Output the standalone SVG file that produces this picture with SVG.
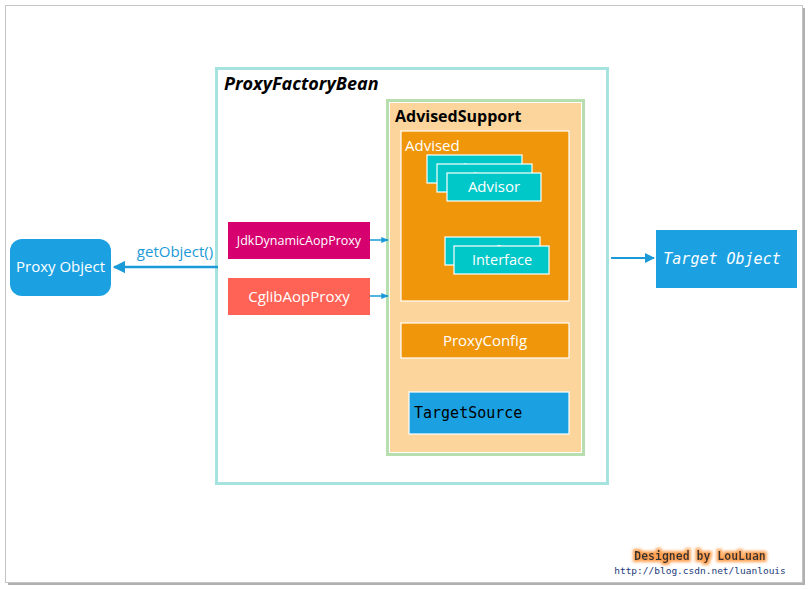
<svg xmlns="http://www.w3.org/2000/svg" width="808" height="589" viewBox="0 0 808 589">
<defs>
<style>
.lbl{font-family:"Open Sans","Liberation Sans",sans-serif;fill:#fff;}
.mono{font-family:"DejaVu Sans Mono","Liberation Mono",monospace;}
.conn{stroke:#1a9ad6;fill:none;}
.teal{fill:#00c8c8;stroke:#fff;stroke-width:1.2;}
</style>
<marker id="ah" viewBox="0 0 10 10" refX="9" refY="5" markerWidth="5" markerHeight="5" orient="auto" markerUnits="strokeWidth">
<path d="M0,0 L10,5 L0,10 z" fill="#1a9ad6"/>
</marker>
<marker id="ahs" viewBox="0 0 10 10" refX="9" refY="5" markerWidth="6" markerHeight="5" orient="auto" markerUnits="strokeWidth">
<path d="M0,1 L10,5 L0,9 z" fill="#1a9ad6"/>
</marker>
<filter id="glow" x="-10%" y="-40%" width="120%" height="180%">
<feMorphology in="SourceAlpha" operator="dilate" radius="2" result="d"/>
<feGaussianBlur in="d" stdDeviation="1.5" result="b"/>
<feFlood flood-color="#ffa050"/>
<feComposite in2="b" operator="in" result="g"/>
<feMerge><feMergeNode in="g"/><feMergeNode in="SourceGraphic"/></feMerge>
</filter>
</defs>
<rect width="808" height="589" fill="#fff"/>
<g id="frame">
<rect x="8" y="8" width="797" height="577" fill="#b0b0b0"/>
<rect x="5.5" y="5.5" width="797" height="577" fill="#fff" stroke="#c4c4c4" stroke-width="1"/>
</g>
<g id="proxyFactoryBean">
<rect x="216.5" y="68.5" width="391" height="415" fill="#fff" stroke="#a6e3de" stroke-width="3"/>
<text x="224" y="90" font-family="'Open Sans','Liberation Sans',sans-serif" font-size="18" font-weight="bold" font-style="italic" fill="#000">ProxyFactoryBean</text>
</g>
<g id="advisedSupport">
<rect x="387.5" y="100.5" width="196" height="354" fill="#fbd59c" stroke="#b6deae" stroke-width="3"/>
<rect x="389.5" y="102.5" width="192" height="350" fill="none" stroke="#fff" stroke-width="1"/>
<text x="395" y="122" font-family="'Open Sans','Liberation Sans',sans-serif" font-size="16" font-weight="bold" fill="#000">AdvisedSupport</text>
</g>
<g id="advised">
<rect x="401" y="131" width="168" height="170" fill="#f0960a" stroke="#fff" stroke-width="1.2"/>
<text class="lbl" x="405" y="151" font-size="15">Advised</text>
</g>
<g id="advisor1">
<rect class="teal" x="427" y="155" width="95" height="28"/>
<text class="lbl" x="474" y="174" font-size="14.5" text-anchor="middle">Advisor</text>
</g>
<g id="advisor2">
<rect class="teal" x="437" y="164" width="95" height="28"/>
<text class="lbl" x="484" y="183" font-size="14.5" text-anchor="middle">Advisor</text>
</g>
<g id="advisor3">
<rect class="teal" x="447" y="173" width="94" height="28"/>
<text class="lbl" x="494" y="192" font-size="15" text-anchor="middle">Advisor</text>
</g>
<g id="interface1">
<rect class="teal" x="445" y="237" width="95" height="28"/>
<text class="lbl" x="493" y="256" font-size="14.5" text-anchor="middle">Interface</text>
</g>
<g id="interface2">
<rect class="teal" x="454" y="246" width="95" height="28"/>
<text class="lbl" x="502" y="265" font-size="14.5" text-anchor="middle">Interface</text>
</g>
<g id="proxyConfig">
<rect x="401" y="323" width="168" height="35" fill="#f0960a" stroke="#fff" stroke-width="1.2"/>
<text class="lbl" x="485" y="346" font-size="15" text-anchor="middle">ProxyConfig</text>
</g>
<g id="targetSource">
<rect x="409" y="392" width="160" height="42" fill="#1ba1e2" stroke="#fff" stroke-width="1.2"/>
<text class="mono" x="414" y="418" font-size="15" fill="#000">TargetSource</text>
</g>
<g id="jdkDynamicAopProxy">
<rect x="228" y="222" width="142" height="37" fill="#d6006f"/>
<text class="lbl" x="299" y="245" font-size="12.5" text-anchor="middle">JdkDynamicAopProxy</text>
</g>
<g id="cglibAopProxy">
<rect x="228" y="278" width="142" height="37" fill="#ff6356"/>
<text class="lbl" x="299" y="302" font-size="15" text-anchor="middle">CglibAopProxy</text>
</g>
<g id="proxyObject">
<rect x="10" y="239" width="101" height="57" rx="12" fill="#1ba1e2"/>
<text class="lbl" x="60.5" y="272" font-size="15" text-anchor="middle">Proxy Object</text>
</g>
<g id="targetObject">
<rect x="656" y="230" width="141" height="58" fill="#1ba1e2"/>
<text class="mono" x="722" y="264" font-size="15" font-style="italic" fill="#fff" text-anchor="middle">Target Object</text>
</g>
<g id="connectors">
<line class="conn" x1="218" y1="267" x2="114" y2="267" stroke-width="2.5" marker-end="url(#ah)"/>
<text x="175" y="257" font-family="'Open Sans','Liberation Sans',sans-serif" font-size="15" fill="#1a9ad6" text-anchor="middle">getObject()</text>
<line class="conn" x1="370" y1="240" x2="388" y2="240" stroke-width="1.5" marker-end="url(#ahs)"/>
<line class="conn" x1="370" y1="296" x2="388" y2="296" stroke-width="1.5" marker-end="url(#ahs)"/>
<line class="conn" x1="611" y1="258" x2="654" y2="258" stroke-width="2" marker-end="url(#ah)"/>
</g>
<g id="watermark">
<text class="mono" x="700" y="560" font-size="11.5" font-weight="bold" fill="#333" text-anchor="middle" filter="url(#glow)">Designed by LouLuan</text>
<text class="mono" x="700" y="574" font-size="9.5" fill="#1a3a7a" text-anchor="middle">http://blog.csdn.net/luanlouis</text>
</g>
</svg>
